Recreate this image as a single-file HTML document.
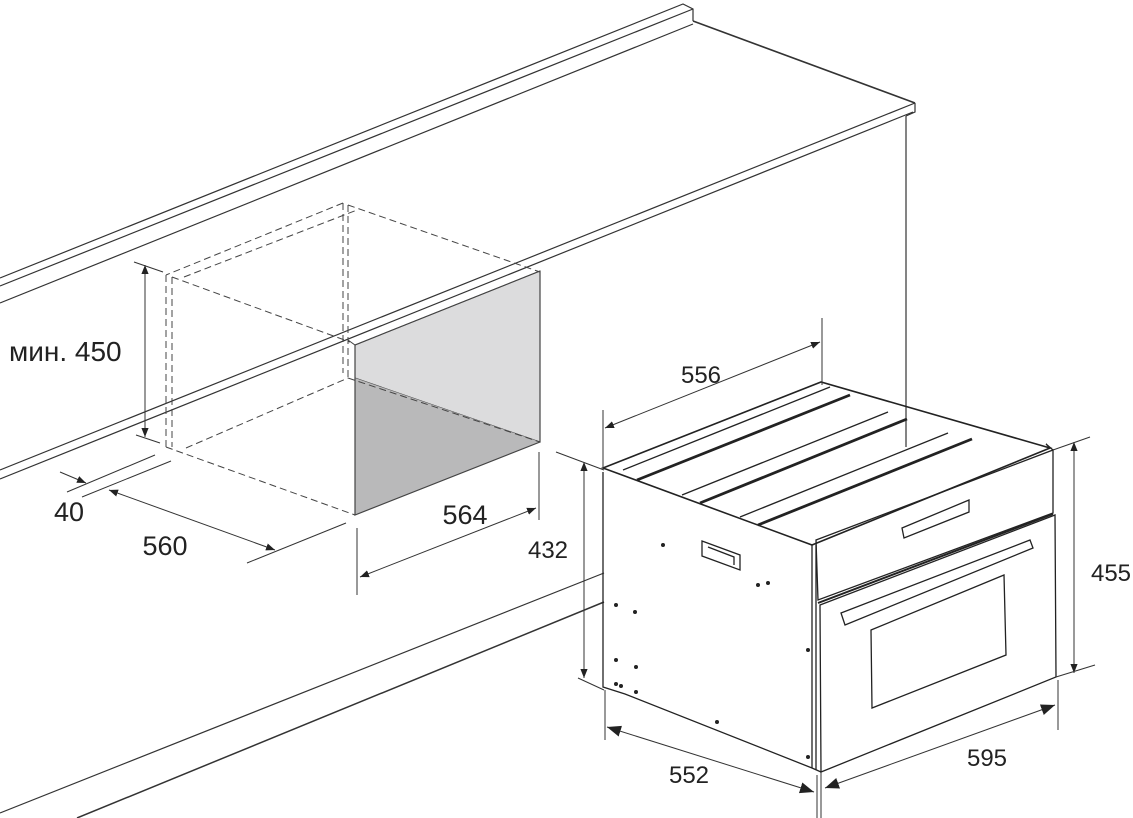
<!DOCTYPE html>
<html><head><meta charset="utf-8"><style>
html,body{margin:0;padding:0;background:#fff;}
svg{display:block;}
text{font-family:"Liberation Sans",Arial,sans-serif;fill:#222;}
</style></head><body>
<svg width="1133" height="818" viewBox="0 0 1133 818" xmlns="http://www.w3.org/2000/svg">
<defs>
<marker id="a" viewBox="0 0 10 10" refX="10" refY="5" markerWidth="9" markerHeight="9" orient="auto-start-reverse" markerUnits="userSpaceOnUse"><path d="M0,1 L10,5 L0,9 z" fill="#222"/></marker>
<marker id="b" viewBox="0 0 10 10" refX="10" refY="5" markerWidth="14" markerHeight="14" orient="auto-start-reverse" markerUnits="userSpaceOnUse"><path d="M0,1 L10,5 L0,9 z" fill="#222"/></marker>
</defs>
<g stroke="#333" stroke-width="1.2" fill="none">
<polyline points="0,278 683,4 693,9 693,21"/>
<line x1="0" y1="286" x2="693" y2="9"/>
<line x1="0" y1="303" x2="693" y2="24"/>
<line x1="693" y1="21" x2="915" y2="103" stroke-width="1.6"/>
<line x1="0" y1="470" x2="915" y2="103"/>
<line x1="0" y1="479" x2="913" y2="112"/>
<polyline points="915,103 915,112 906,116"/>
<line x1="906" y1="116" x2="906" y2="447"/>
<line x1="0" y1="813" x2="604" y2="573"/>
<line x1="77" y1="818" x2="604" y2="602" stroke-width="1.5"/>
</g>
<polygon points="355,345 540,271 540,442 355,378" fill="#dcdcdd" stroke="#444" stroke-width="1"/>
<polygon points="355,378 540,442 355,515" fill="#b9b9ba"/>
<polyline points="355,345 355,515 540,442 540,271" fill="none" stroke="#444" stroke-width="1.2"/>
<polyline points="348,340 355,345 540,271" fill="none" stroke="#444" stroke-width="1"/>
<g stroke="#444" stroke-width="1" fill="none" stroke-dasharray="7,4">
<line x1="166" y1="275" x2="166" y2="447"/>
<line x1="172" y1="277" x2="172" y2="447"/>
<line x1="343" y1="203" x2="343" y2="373"/>
<line x1="348" y1="205" x2="348" y2="378"/>
<line x1="348" y1="205" x2="540" y2="272"/>
<line x1="343" y1="203" x2="166" y2="275"/>
<line x1="184" y1="277" x2="357" y2="210"/>
<line x1="172" y1="277" x2="350" y2="342"/>
<line x1="166" y1="447" x2="355" y2="515"/>
<line x1="186" y1="448" x2="348" y2="378"/>
<line x1="348" y1="378" x2="540" y2="442"/>
</g>
<g stroke="#333" stroke-width="1" fill="none">
<line x1="145" y1="265" x2="145" y2="437" marker-start="url(#a)" marker-end="url(#a)"/>
<line x1="134" y1="262" x2="163" y2="272"/>
<line x1="136" y1="435" x2="160" y2="443"/>
<line x1="67" y1="492" x2="155" y2="455"/>
<line x1="82" y1="497" x2="171" y2="461"/>
<line x1="60" y1="472" x2="86" y2="483" marker-end="url(#a)"/>
<line x1="109" y1="490" x2="275" y2="550" marker-start="url(#a)" marker-end="url(#a)"/>
<line x1="247" y1="563" x2="346" y2="523"/>
<line x1="357" y1="528" x2="357" y2="595"/>
<line x1="539" y1="452" x2="539" y2="520"/>
<line x1="360" y1="577" x2="536" y2="508" marker-start="url(#a)" marker-end="url(#a)"/>
<line x1="584" y1="462" x2="584" y2="678" marker-start="url(#a)" marker-end="url(#a)"/>
<line x1="556" y1="452" x2="604" y2="470"/>
<line x1="578" y1="678" x2="604" y2="690"/>
</g>
<g stroke="#222" stroke-width="1.3" fill="none">
<polygon points="603,468 821,382 1050,448 812,545" stroke-width="1.6"/>
<polyline points="603,472 603,687 625,694 812,768 821,772"/>
<line x1="812" y1="545" x2="812" y2="768"/>
<polygon points="816,540 1053,450 1053,513 818,600"/>
<polyline points="1050,448 1046,444 1053,450"/>
<polygon points="820,605 1055,515 1056,677 821,772"/>
<polygon points="841,613 1030,540 1033,548 845,625"/>
<polygon points="871,630 1004,575 1006,655 872,708"/>
<polygon points="902,528 969,500 969,512 904,538"/>
<line x1="623" y1="470" x2="830" y2="387"/>
<line x1="637" y1="480" x2="850" y2="395" stroke-width="2.8"/>
<line x1="682" y1="495" x2="888" y2="412"/>
<line x1="700" y1="503" x2="907" y2="419" stroke-width="2.8"/>
<line x1="740" y1="517" x2="948" y2="433"/>
<line x1="758" y1="525" x2="972" y2="439" stroke-width="2.8"/>
<line x1="818" y1="603" x2="1053" y2="514" stroke-width="2"/>
<line x1="816" y1="545" x2="816" y2="770"/>
<polygon points="702,541 740,555 740,570 702,556"/>
<polyline points="708,547 734,557 734,565"/>
</g>
<g fill="#222">
<circle cx="663" cy="545" r="2"/><circle cx="616" cy="605" r="2"/><circle cx="635" cy="612" r="2"/>
<circle cx="616" cy="660" r="2"/><circle cx="636" cy="667" r="2"/><circle cx="616" cy="684" r="2"/>
<circle cx="621" cy="686" r="2"/><circle cx="636" cy="692" r="2"/><circle cx="758" cy="585" r="2"/>
<circle cx="768" cy="583" r="2"/><circle cx="717" cy="722" r="2"/><circle cx="808" cy="650" r="2"/>
<circle cx="808" cy="757" r="2"/>
</g>
<g stroke="#333" stroke-width="1" fill="none">
<line x1="603" y1="410" x2="603" y2="468"/>
<line x1="822" y1="318" x2="822" y2="385"/>
<line x1="605" y1="428" x2="820" y2="342" marker-start="url(#a)" marker-end="url(#a)"/>
<line x1="1074" y1="442" x2="1074" y2="673" marker-start="url(#a)" marker-end="url(#a)"/>
<line x1="1053" y1="450" x2="1090" y2="437"/>
<line x1="1056" y1="677" x2="1095" y2="665"/>
<line x1="605" y1="690" x2="605" y2="740"/>
<line x1="607" y1="727" x2="814" y2="792" marker-start="url(#b)" marker-end="url(#b)"/>
<line x1="821" y1="772" x2="821" y2="818"/>
<line x1="817" y1="775" x2="817" y2="818"/>
<line x1="1058" y1="680" x2="1058" y2="730"/>
<line x1="825" y1="788" x2="1055" y2="705" marker-start="url(#b)" marker-end="url(#b)"/>
</g>
<text x="9" y="361" font-size="28">мин. 450</text>
<text x="69" y="521" font-size="27" text-anchor="middle">40</text>
<text x="165" y="555" font-size="27" text-anchor="middle">560</text>
<text x="465" y="524" font-size="27" text-anchor="middle">564</text>
<text x="548" y="558" font-size="24" text-anchor="middle">432</text>
<text x="701" y="383" font-size="24" text-anchor="middle">556</text>
<text x="1111" y="581" font-size="24" text-anchor="middle">455</text>
<text x="689" y="783" font-size="24" text-anchor="middle">552</text>
<text x="987" y="766" font-size="24" text-anchor="middle">595</text>
</svg>
</body></html>
